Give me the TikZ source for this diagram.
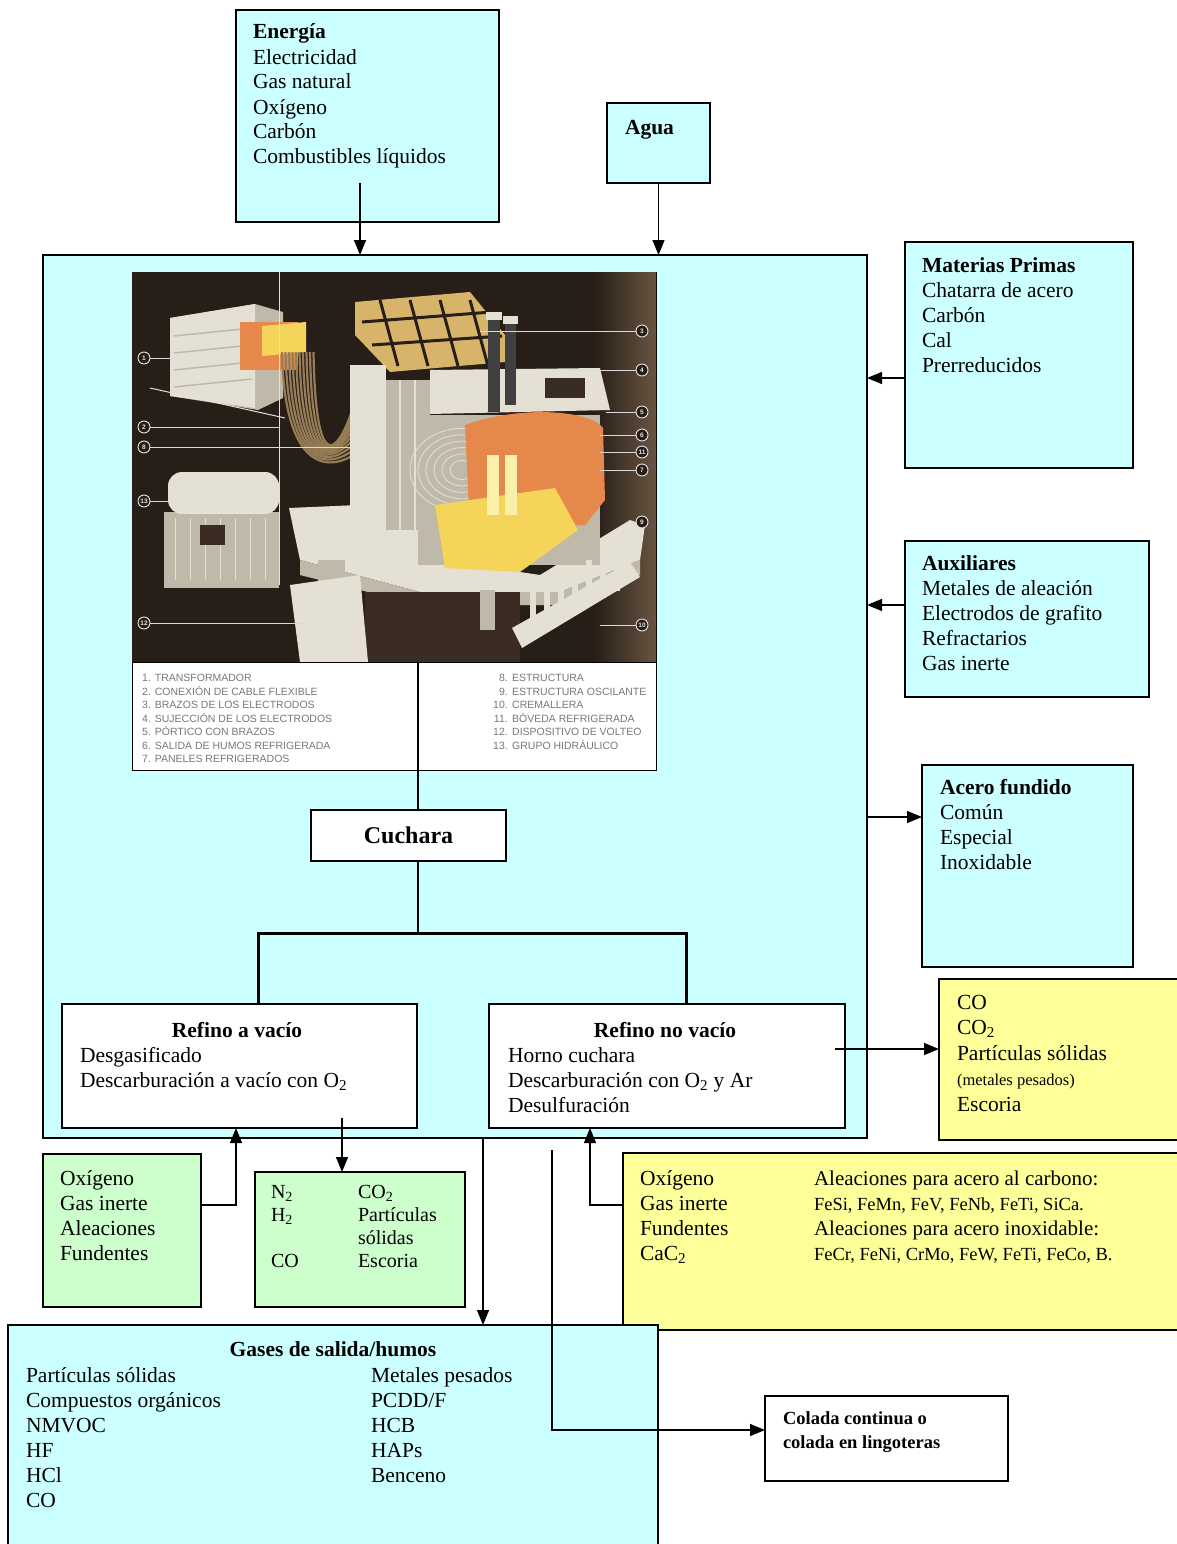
\documentclass[tikz,border=0pt]{standalone}
\usepackage{fontspec}
\setmainfont{Liberation Serif}
\newfontfamily\legfont{Liberation Sans}
\usetikzlibrary{arrows.meta}
\definecolor{cyanbox}{RGB}{204,255,255}
\definecolor{greenbox}{RGB}{204,255,204}
\definecolor{yellowbox}{RGB}{255,255,153}
\definecolor{photobg}{RGB}{40,30,24}
\definecolor{photoedge}{RGB}{105,85,65}
\definecolor{struct}{RGB}{228,225,212}
\definecolor{structb}{RGB}{190,185,168}
\definecolor{orangeC}{RGB}{230,135,75}
\definecolor{yellowC}{RGB}{245,212,90}
\definecolor{paleY}{RGB}{250,240,170}
\definecolor{cableC}{RGB}{150,125,85}
\definecolor{tanC}{RGB}{215,180,105}
\definecolor{darkblock}{RGB}{58,44,34}
\definecolor{legC}{RGB}{120,120,120}
\newcommand\mystrut{\rule{0pt}{15pt}}
\newcommand\smstrut{\rule{0pt}{14pt}}
\newcommand\bodyfont{\fontsize{21.5}{25}\selectfont}
\tikzset{
  box/.style={draw=black, line width=1.4pt, anchor=north west, inner sep=0pt, outer sep=0pt},
  txt/.style={anchor=north west, inner sep=0pt, outer sep=0pt, align=left, font=\bodyfont},
  ttl/.style={anchor=base, inner sep=0pt, font=\bodyfont\bfseries},
  arr/.style={line width=1.3pt, -{Triangle[length=15pt,width=12pt]}},
  ln/.style={line width=1.3pt},
  thickln/.style={line width=3pt},
  legtxt/.style={anchor=north west, inner sep=0pt, align=left, text=legC, font=\legfont\fontsize{10.5}{13.5}\selectfont},
  lbl/.style={circle, draw=white!90!black, line width=0.9pt, fill=photobg, minimum size=12pt, inner sep=0pt, text=white!90!black, font=\legfont\fontsize{6.5}{6.5}\selectfont\bfseries},
  leader/.style={draw=white!85!black, line width=0.8pt}
}
\begin{document}
\begin{tikzpicture}[x=1pt,y=-1pt]
\useasboundingbox (0,0) rectangle (1177,1544);
\fill[white] (0,0) rectangle (1177,1544);

% ---------- main box ----------
\node[box, fill=cyanbox, minimum width=824pt, minimum height=883pt] (main) at (43,255) {};

% ---------- furnace picture ----------
\node[box, line width=1pt, fill=white, minimum width=524pt, minimum height=498pt] (pic) at (132,272) {};
\begin{scope}
\clip (132,272) rectangle (656,662);
\fill[photobg] (132,272) rectangle (656,662);
\shade[left color=photobg, right color=photoedge] (595,272) rectangle (656,662);
% transformer
\fill[structb] (170,318) -- (255,304) -- (283,312) -- (283,398) -- (258,410) -- (170,396) -- cycle;
\fill[struct] (170,318) -- (255,304) -- (255,408) -- (170,396) -- cycle;
\foreach \yy in {336,353,370,387} \draw[structb, line width=1.5pt] (174,\yy) -- (252,{\yy-8});
\fill[orangeC] (240,322) rectangle (298,370);
\fill[yellowC] (262,326) -- (306,322) -- (306,352) -- (262,356) -- cycle;
\draw[struct, line width=1pt] (150,388) -- (285,418);
% cables
\foreach \i in {0,...,9} \draw[cableC, line width=2.2pt] ({282+3.5*\i},352) .. controls ({284+3.5*\i},{455+2*\i}) and ({318+2*\i},{475-2*\i}) .. (352,{456-5*\i});
% vertical white line
\draw[struct, line width=1pt] (279,272) -- (279,585);
% hydraulic group
\fill[structb] (164,512) rectangle (279,588);
\foreach \k in {0,...,6} \draw[struct, line width=1pt] ({175+15*\k},518) -- ({175+15*\k},580);
\fill[struct, rounded corners=14pt] (168,472) rectangle (279,514);
\fill[darkblock] (200,525) rectangle (225,545);
% gantry
\fill[tanC] (355,302) -- (470,292) -- (505,335) -- (505,362) -- (390,372) -- (355,335) -- cycle;
\foreach \k in {0,1,2,3} \draw[photobg, line width=3pt] ({380+30*\k},300) -- ({398+30*\k},366);
\draw[photobg, line width=3pt] (362,322) -- (492,312);
\draw[photobg, line width=3pt] (372,345) -- (502,336);
% platform
\fill[struct] (289,508) -- (428,502) -- (440,560) -- (540,575) -- (630,520) -- (645,525) -- (640,560) -- (560,592) -- (420,592) -- (300,560) -- cycle;
\fill[structb] (300,560) -- (420,592) -- (560,592) -- (640,560) -- (640,575) -- (560,605) -- (420,605) -- (300,575) -- cycle;
% column and mast
\fill[struct] (350,365) rectangle (386,565);
\fill[structb] (386,380) rectangle (430,530);
\draw[struct, line width=1.5pt] (400,380) -- (400,530) (415,380) -- (415,530);
% vessel
\fill[structb] (418,415) rectangle (600,565);
\foreach \r in {12,20,...,52} \draw[struct, line width=0.8pt] (462,470) ellipse ({\r} and {0.8*\r});
% orange interior
\fill[orangeC] (465,425) .. controls (520,405) and (590,410) .. (603,428) -- (605,500) -- (585,525) -- (470,530) -- cycle;
% melt
\fill[yellowC] (435,505) -- (555,488) -- (578,530) -- (520,572) -- (445,568) -- cycle;
\fill[paleY] (487,455) rectangle (499,515);
\fill[paleY] (505,455) rectangle (517,515);
% roof arm and electrodes
\fill[struct] (430,370) -- (600,368) -- (610,410) -- (430,414) -- cycle;
\fill[darkblock] (545,378) rectangle (585,398);
\fill[black!75] (488,318) rectangle (500,412);
\fill[black!75] (505,322) rectangle (516,405);
\fill[struct] (486,312) rectangle (502,320);
\fill[struct] (503,316) rectangle (518,324);
% legs, block, tilting device, rack
\fill[darkblock] (365,592) rectangle (520,662);
\fill[structb] (318,560) rectangle (345,662);
\fill[structb] (480,590) rectangle (495,630);
\fill[struct] (290,585) -- (360,575) -- (368,662) -- (300,662) -- cycle;
\fill[struct] (512,628) -- (630,562) -- (640,577) -- (522,648) -- cycle;
\foreach \k in {0,...,6} \fill[struct] ({530+14*\k},{588-7*\k}) rectangle ++(6,45);
% labels
\node[lbl] (c1) at (144,358) {1};
\node[lbl] (c2) at (144,427) {2};
\node[lbl] (c8) at (144,447) {8};
\node[lbl] (c13) at (144,501) {13};
\node[lbl] (c12) at (144,623) {12};
\node[lbl] (c3) at (642,331) {3};
\node[lbl] (c4) at (642,370) {4};
\node[lbl] (c5) at (642,412) {5};
\node[lbl] (c6) at (642,435) {6};
\node[lbl] (c11) at (642,452) {11};
\node[lbl] (c7) at (642,470) {7};
\node[lbl] (c9) at (642,522) {9};
\node[lbl] (c10) at (642,625) {10};
\draw[leader] (c1.east) -- (175,358);
\draw[leader] (c2.east) -- (279,427);
\draw[leader] (c8.east) -- (352,447);
\draw[leader] (c13.east) -- (170,501);
\draw[leader] (c12.east) -- (305,623);
\draw[leader] (c3.west) -- (480,331);
\draw[leader] (c4.west) -- (570,370);
\draw[leader] (c5.west) -- (606,412);
\draw[leader] (c6.west) -- (600,435);
\draw[leader] (c11.west) -- (600,452);
\draw[leader] (c7.west) -- (600,470);
\draw[leader] (c9.west) -- (628,522);
\draw[leader] (c10.west) -- (600,625);
\end{scope}
\draw[line width=1pt] (132,662) -- (656,662);
\node[legtxt] (legL) at (142,674) {1. TRANSFORMADOR\\2. CONEXIÓN DE CABLE FLEXIBLE\\3. BRAZOS DE LOS ELECTRODOS\\4. SUJECCIÓN DE LOS ELECTRODOS\\5. PÓRTICO CON BRAZOS\\6. SALIDA DE HUMOS REFRIGERADA\\7. PANELES REFRIGERADOS};
\node[legtxt, anchor=north east, align=right] (legN) at (508,674) {8.\\9.\\10.\\11.\\12.\\13.};
\node[legtxt] (legR) at (512,674) {ESTRUCTURA\\ESTRUCTURA OSCILANTE\\CREMALLERA\\BÓVEDA REFRIGERADA\\DISPOSITIVO DE VOLTEO\\GRUPO HIDRÁULICO};

% ---------- process boxes ----------
\node[box, fill=white, minimum width=195pt, minimum height=51pt, font=\fontsize{24}{28}\selectfont\bfseries] (cuchara) at (311,810) {Cuchara};
\node[box, fill=white, minimum width=355pt, minimum height=124pt] (rv) at (62,1004) {};
\node[box, fill=white, minimum width=356pt, minimum height=124pt] (rnv) at (489,1004) {};
\node[ttl] (rvT) at (237,1037) {Refino a vacío};
\node[txt] (rvL) at (80,1047) {\mystrut Desgasificado\\Descarburación a vacío con O\textsubscript{2}};
\node[ttl] (rnvT) at (665,1037) {Refino no vacío};
\node[txt] (rnvL) at (508,1047) {\mystrut Horno cuchara\\Descarburación con O\textsubscript{2} y Ar\\Desulfuración};

% ---------- input/output boxes ----------
\node[box, fill=cyanbox, minimum width=263pt, minimum height=212pt] (energia) at (236,10) {};
\node[txt] (energiaT) at (253,24) {\mystrut\textbf{Energía}\\Electricidad\\Gas natural\\Oxígeno\\Carbón\\Combustibles líquidos};
\node[box, fill=cyanbox, minimum width=103pt, minimum height=80pt] (agua) at (607,103) {};
\node[txt] (aguaT) at (625,120) {\mystrut\textbf{Agua}};
\node[box, fill=cyanbox, minimum width=228pt, minimum height=226pt] (materias) at (905,242) {};
\node[txt] (materiasT) at (922,257) {\mystrut\textbf{Materias Primas}\\Chatarra de acero\\Carbón\\Cal\\Prerreducidos};
\node[box, fill=cyanbox, minimum width=244pt, minimum height=156pt] (aux) at (905,541) {};
\node[txt] (auxT) at (922,555) {\mystrut\textbf{Auxiliares}\\Metales de aleación\\Electrodos de grafito\\Refractarios\\Gas inerte};
\node[box, fill=cyanbox, minimum width=211pt, minimum height=202pt] (acero) at (922,765) {};
\node[txt] (aceroT) at (940,779) {\mystrut\textbf{Acero fundido}\\Común\\Especial\\Inoxidable};
\node[box, fill=yellowbox, minimum width=260pt, minimum height=161pt] (yel1) at (939,979) {};
\node[txt, font=\fontsize{21.5}{25.5}\selectfont] (yel1T) at (957,994) {\mystrut CO\\CO\textsubscript{2}\\Partículas sólidas\\{\fontsize{16.5}{25.5}\selectfont (metales pesados)}\\Escoria};
\node[box, fill=greenbox, minimum width=158pt, minimum height=153pt] (g1) at (43,1154) {};
\node[txt] (g1T) at (60,1170) {\mystrut Oxígeno\\Gas inerte\\Aleaciones\\Fundentes};
\node[box, fill=greenbox, minimum width=210pt, minimum height=135pt] (g2) at (255,1172) {};
\node[txt, font=\fontsize{20}{23}\selectfont] (g2A) at (271,1184.5) {\smstrut N\textsubscript{2}\\H\textsubscript{2}\\\\CO};
\node[txt, font=\fontsize{20}{23}\selectfont] (g2B) at (358,1184.5) {\smstrut CO\textsubscript{2}\\Partículas\\sólidas\\Escoria};
\node[box, fill=yellowbox, minimum width=570pt, minimum height=177pt] (yel2) at (623,1153) {};
\node[txt] (yel2A) at (640,1170) {\mystrut Oxígeno\\Gas inerte\\Fundentes\\CaC\textsubscript{2}};
\node[txt, font=\fontsize{21}{25}\selectfont] (yel2B) at (814,1170) {\mystrut Aleaciones para acero al carbono:\\{\fontsize{18.5}{25}\selectfont FeSi, FeMn, FeV, FeNb, FeTi, SiCa.}\\Aleaciones para acero inoxidable:\\{\fontsize{18.5}{25}\selectfont FeCr, FeNi, CrMo, FeW, FeTi, FeCo, B.}};
\node[box, fill=cyanbox, minimum width=650pt, minimum height=240pt] (gases) at (8,1325) {};
\node[ttl] (gasesT) at (333,1356) {Gases de salida/humos};
\node[txt] (gasesA) at (26,1367) {\mystrut Partículas sólidas\\Compuestos orgánicos\\NMVOC\\HF\\HCl\\CO};
\node[txt] (gasesB) at (371,1367) {\mystrut Metales pesados\\PCDD/F\\HCB\\HAPs\\Benceno};
\node[box, fill=white, minimum width=243pt, minimum height=85pt] (colada) at (765,1396) {};
\node[txt, font=\fontsize{18.5}{24}\selectfont\bfseries] (coladaT) at (783,1410.5) {\smstrut Colada continua o\\colada en lingoteras};

% ---------- connectors ----------
\coordinate (eS) at (360,183);
\draw[arr] (eS) -- (eS |- main.north);
\draw[arr] (agua.south) -- (agua.south |- main.north);
\coordinate (mpA) at (905,378);
\draw[arr] (mpA) -- (mpA -| main.east);
\coordinate (axA) at (905,605);
\draw[arr] (axA) -- (axA -| main.east);
\coordinate (acA) at (922,817);
\draw[arr] (acA -| main.east) -- (acA);
\coordinate (coS) at (835,1049);
\draw[arr] (coS) -- (coS -| yel1.west);
\coordinate (picL) at (418,662);
\draw[ln] (picL) -- (picL |- cuchara.north);
\coordinate (br) at (418,933);
\coordinate (brL) at (258,933);
\coordinate (brR) at (686,933);
\draw[ln] (br |- cuchara.south) -- (br);
\draw[thickln] (brL |- rv.north) -- (brL) -- (brR) -- (brR |- rnv.north);
\coordinate (g1c) at (236,1205);
\draw[arr] (g1c -| g1.east) -- (g1c) -- (g1c |- rv.south);
\coordinate (rvS) at (342,1118);
\draw[arr] (rvS) -- (rvS |- g2.north);
\coordinate (mgS) at (483,1138);
\draw[arr] (mgS) -- (mgS |- gases.north);
\coordinate (colS) at (552,1150);
\coordinate (colC) at (552,1430);
\draw[arr] (colS) -- (colC) -- (colC -| colada.west);
\coordinate (y2c) at (590,1205);
\draw[arr] (y2c -| yel2.west) -- (y2c) -- (y2c |- rnv.south);
\end{tikzpicture}
\end{document}
